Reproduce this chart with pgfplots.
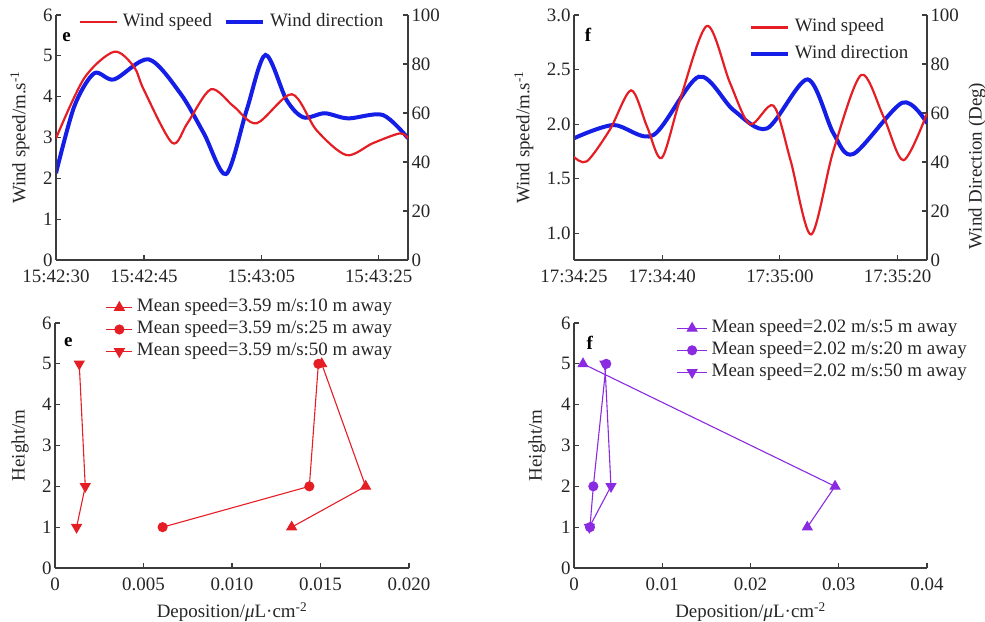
\documentclass[border=0pt]{standalone}
\usepackage{fontspec}
\setmainfont{Liberation Serif}
\usepackage{pgfplots}
\pgfplotsset{compat=1.18}

\definecolor{wsred}{RGB}{228,30,36}
\definecolor{wdblue}{RGB}{20,30,230}
\definecolor{purp}{RGB}{138,43,226}
\definecolor{axgray}{RGB}{60,60,60}

\pgfplotsset{
  base/.style={scale only axis, anchor=south west,
    font=\fontsize{19}{22}\selectfont,
    tick align=inside, major tick length=5bp,
    axis line style={-, draw=axgray, line width=1.1bp},
    tick style={draw=axgray, line width=1.1bp},
    /pgf/number format/assume math mode=true,
    tick label style={text=black!85},
    xticklabel style={yshift=-6bp},
    label style={text=black!85},
    legend cell align=left,
  },
  toplegend/.style={legend style={draw=none, fill=none, inner sep=0pt,
      nodes={inner sep=2bp, text height=13bp, text depth=5bp, text=black!85},
      row sep=5bp, /tikz/every odd column/.style={column sep=3bp}}},
  botlegend/.style={legend style={draw=none, fill=none, inner sep=0pt,
      nodes={inner sep=1bp, text height=13bp, text depth=5bp, text=black!85},
      row sep=2bp, /tikz/every odd column/.style={column sep=3bp}}},
  botimg/.style={legend image code/.code={\draw[mark repeat=2,mark phase=2,##1] plot coordinates {(0bp,0bp) (#1/2,0bp) (#1,0bp)};}},
}

\begin{document}
\begin{tikzpicture}
\path[use as bounding box] (0,0) rectangle (985bp,-622bp);

% ---------------- panel e (top left) ----------------
\begin{axis}[base, at={(56bp,-260bp)}, width=352bp, height=245bp,
  xmin=0, xmax=60, ymin=0, ymax=100,
  axis x line=none, axis y line*=right, ytick={0,20,...,100}]
\addplot[wdblue, line width=4bp, smooth] coordinates {
 (0,35.4) (3.1,62.6) (6.5,76.2) (9.9,73.7) (15.8,81.9) (21.2,68.0) (25.2,51.7)
 (29.0,35.1) (32.5,61.2) (35.7,83.7) (39.3,65.3) (42.2,58.2) (45.8,59.9)
 (49.8,57.8) (55.7,59.2) (60,49.7)};
\end{axis}
\begin{axis}[base, toplegend, at={(56bp,-260bp)}, width=352bp, height=245bp,
  xmin=0, xmax=60, ymin=0, ymax=6,
  axis x line*=bottom, axis y line*=left,
  xtick={0,15,35,55}, xticklabels={15:42:30,15:42:45,15:43:05,15:43:25},
  ytick={0,1,...,6},
  ylabel={Wind speed/m.s\textsuperscript{-1}},
  ylabel style={at={(rel axis cs:0,0.5)}, anchor=center, yshift=36bp},
  legend columns=2,
  legend style={at={(0.5,0.971)}, anchor=center,
    /tikz/every even column/.style={column sep=10bp}},
  legend image code/.code={\draw[#1] (0bp,0bp) -- (37bp,0bp);}]
\addplot[wsred, line width=2.2bp, smooth] coordinates {
 (0,2.98) (4.8,4.45) (9.9,5.10) (13.3,4.73) (15.0,4.16) (19.8,2.87) (22.4,3.35)
 (26.4,4.18) (30.3,3.76) (34.2,3.35) (40.2,4.06) (44.4,3.18) (49.5,2.57)
 (54.0,2.86) (58.6,3.10) (60,2.98)};
\addlegendentry{Wind speed}
\addlegendimage{wdblue, line width=4bp}
\addlegendentry{Wind direction}
\node[font=\fontsize{19}{22}\selectfont\bfseries] at (rel axis cs:0.03,0.908) {e};
\end{axis}

% ---------------- panel f (top right) ----------------
\begin{axis}[base, at={(574bp,-260bp)}, width=353bp, height=245bp,
  xmin=0, xmax=60, ymin=0, ymax=100,
  axis x line=none, axis y line*=right, ytick={0,20,...,100},
  ylabel={Wind Direction (Deg)},
  ylabel style={at={(rel axis cs:1,0.384)}, anchor=center, yshift=-50bp}]
\addplot[wdblue, line width=4bp, smooth] coordinates {
 (0,49.7) (6.7,55.1) (13.5,51.0) (21.2,74.8) (27.1,61.2) (32.8,53.7) (39.7,73.7)
 (44.1,51.7) (47.5,43.3) (55.8,64.2) (60,55.8)};
\end{axis}
\begin{axis}[base, toplegend, at={(574bp,-260bp)}, width=353bp, height=245bp,
  xmin=0, xmax=60, ymin=0.756, ymax=3,
  axis x line*=bottom, axis y line*=left,
  xtick={0,15,35,55}, xticklabels={17:34:25,17:34:40,17:35:00,17:35:20},
  ytick={1,1.5,...,3},
  yticklabel style={/pgf/number format/.cd, fixed, fixed zerofill, precision=1},
  ylabel={Wind speed/m.s\textsuperscript{-1}},
  ylabel style={at={(rel axis cs:0,0.5)}, anchor=center, yshift=50bp},
  legend style={at={(0.495,0.995)}, anchor=north west},
  legend image code/.code={\draw[#1] (0bp,0bp) -- (37bp,0bp);}]
\addplot[wsred, line width=2.2bp, smooth] coordinates {
 (0,1.70) (2.2,1.66) (6.1,1.95) (9.7,2.31) (12.4,1.98) (14.9,1.69) (18.0,2.22)
 (22.6,2.90) (26.5,2.38) (29.9,2.00) (33.9,2.17) (36.8,1.67) (40.3,0.99)
 (44.1,1.76) (48.8,2.45) (52.6,2.07) (56.0,1.67) (60,2.10)};
\addlegendentry{Wind speed}
\addlegendimage{wdblue, line width=4bp}
\addlegendentry{Wind direction}
\node[font=\fontsize{19}{22}\selectfont\bfseries] at (rel axis cs:0.04,0.918) {f};
\end{axis}

% ---------------- panel e (bottom left) ----------------
\begin{axis}[base, botlegend, botimg=26bp, at={(55bp,-568bp)}, width=354bp, height=245bp,
  xmin=0, xmax=0.02, ymin=0, ymax=6,
  axis x line*=bottom, axis y line*=left,
  xtick={0,0.005,0.01,0.015,0.02}, xticklabels={0,0.005,0.010,0.015,0.020},
  scaled x ticks=false,
  ytick={0,1,...,6},
  ylabel={Height/m},
  ylabel style={at={(rel axis cs:0,0.5)}, anchor=center, yshift=35bp},
  xlabel={Deposition/\textit{μ}L·cm\textsuperscript{-2}},
  xlabel style={at={(rel axis cs:0.5,0)}, anchor=center, yshift=-44bp},
  legend style={at={(0.143,1.105)}, anchor=north west}]
\addplot[wsred, line width=1.1bp, mark=triangle*, mark size=5.5bp] coordinates {
 (0.01337,1) (0.01755,2) (0.01507,5)};
\addlegendentry{Mean speed=3.59 m/s:10 m away}
\addplot[wsred, line width=1.1bp, mark=*, mark size=4.5bp] coordinates {
 (0.00608,1) (0.01437,2) (0.01488,5)};
\addlegendentry{Mean speed=3.59 m/s:25 m away}
\addplot[wsred, line width=1.1bp, mark=triangle*, mark size=5.5bp, mark options={rotate=180}] coordinates {
 (0.00122,1) (0.00171,2) (0.00137,5)};
\addlegendentry{Mean speed=3.59 m/s:50 m away}
\node[font=\fontsize{19}{22}\selectfont\bfseries] at (rel axis cs:0.038,0.922) {e};
\end{axis}

% ---------------- panel f (bottom right) ----------------
\begin{axis}[base, botlegend, botimg=30bp, at={(574bp,-568bp)}, width=353bp, height=245bp,
  xmin=0, xmax=0.04, ymin=0, ymax=6,
  axis x line*=bottom, axis y line*=left,
  xtick={0,0.01,0.02,0.03,0.04}, xticklabels={0,0.01,0.02,0.03,0.04},
  scaled x ticks=false,
  ytick={0,1,...,6},
  ylabel={Height/m},
  ylabel style={at={(rel axis cs:0,0.5)}, anchor=center, yshift=37bp},
  xlabel={Deposition/\textit{μ}L·cm\textsuperscript{-2}},
  xlabel style={at={(rel axis cs:0.5,0)}, anchor=center, yshift=-44bp},
  legend style={at={(0.29,1.02)}, anchor=north west}]
\addplot[purp, line width=1.1bp, mark=triangle*, mark size=5.5bp] coordinates {
 (0.02644,1) (0.02958,2) (0.00102,5)};
\addlegendentry{Mean speed=2.02 m/s:5 m away}
\addplot[purp, line width=1.1bp, mark=*, mark size=4.5bp] coordinates {
 (0.00181,1) (0.00219,2) (0.00365,5)};
\addlegendentry{Mean speed=2.02 m/s:20 m away}
\addplot[purp, line width=1.1bp, mark=triangle*, mark size=5.5bp, mark options={rotate=180}] coordinates {
 (0.00174,1) (0.00419,2) (0.00350,5)};
\addlegendentry{Mean speed=2.02 m/s:50 m away}
\node[font=\fontsize{19}{22}\selectfont\bfseries] at (rel axis cs:0.045,0.918) {f};
\end{axis}
\end{tikzpicture}
\end{document}
